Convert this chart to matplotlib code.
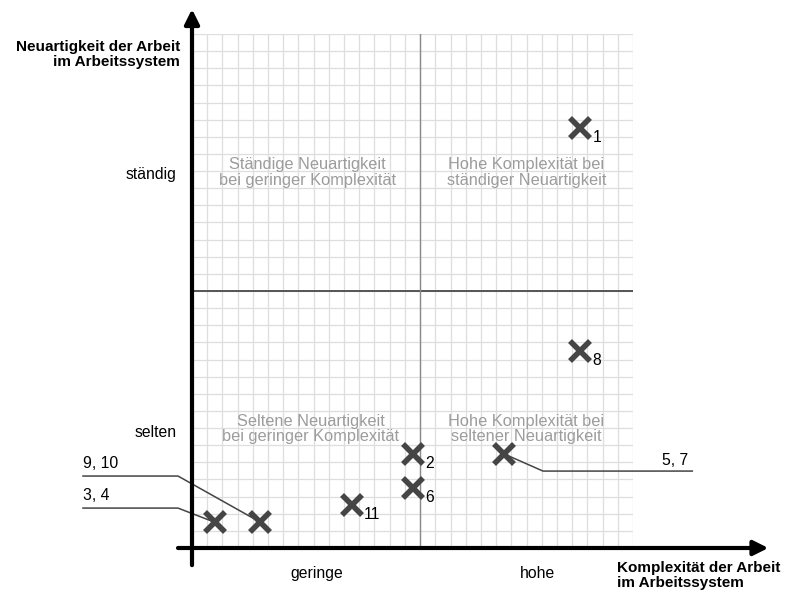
import numpy as np
import matplotlib.pyplot as plt

plt.rcParams["font.family"] = ["Liberation Sans", "DejaVu Sans"]

# Raster: 29 Spalten x 30 Zeilen, Mitte bei 15 / 15
n_cols = 29
n_rows = 30
mitte_x = 15
mitte_y = 15

# Kreuze mit Nummer daneben
komplexitaet = [25.5, 14.5, 25.5, 14.5, 10.5]
neuartigkeit = [24.5, 5.5, 11.5, 3.5, 2.5]
nummern = ["1", "2", "8", "6", "11"]

# Kreuze mit Hinweislinie
hinweis_x = [1.5, 4.5, 20.5]
hinweis_y = [1.5, 1.5, 5.5]
hinweis_text = ["3, 4", "9, 10", "5, 7"]

x_ticks = ["geringe", "hohe"]
y_ticks = ["selten", "ständig"]

quadranten = ["Ständige Neuartigkeit\nbei geringer Komplexität",
              "Hohe Komplexität bei\nständiger Neuartigkeit",
              "Seltene Neuartigkeit\nbei geringer Komplexität",
              "Hohe Komplexität bei\nseltener Neuartigkeit"]

fs = 11.3

fig = plt.figure(figsize=(7.88, 5.90), dpi=100)
ax = fig.add_axes([192 / 788, 42 / 590, 441 / 788, 514 / 590])
ax.set_xlim(0, n_cols)
ax.set_ylim(0, n_rows)
for s in ax.spines.values():
    s.set_visible(False)

# Raster
ax.set_xticks(np.arange(0, n_cols + 1), minor=True)
ax.set_yticks(np.arange(0, n_rows + 1), minor=True)
ax.grid(which="minor", color="#dedede", lw=0.9)
ax.tick_params(which="both", length=0)
ax.set_xticks([8.2, 22.7], x_ticks)
ax.set_yticks([6.8, 21.9], y_ticks)
ax.tick_params(axis="x", pad=13, labelsize=fs)
ax.tick_params(axis="y", pad=11, labelsize=fs)

# Mittellinien
ax.plot([0, n_cols], [mitte_y, mitte_y], color="#555555", lw=1.4, zorder=2)
ax.plot([mitte_x, mitte_x], [0, n_rows], color="#8a8a8a", lw=1.0, zorder=2)

# Achsen mit Pfeilen
pfeil = dict(arrowstyle="-|>", color="black", lw=3, mutation_scale=22, shrinkA=0, shrinkB=0)
ax.annotate("", xy=(0, 31.45), xytext=(0, -1.0), arrowprops=pfeil, annotation_clip=False, zorder=5)
ax.annotate("", xy=(37.9, 0), xytext=(-0.92, 0), arrowprops=pfeil, annotation_clip=False, zorder=5)

# Quadrantentexte
qx = [7.6, 22.0, 7.8, 22.0]
qy = [21.9, 21.9, 6.95, 6.95]
for x, y, t in zip(qx, qy, quadranten):
    ax.text(x, y, t, color="#9c9c9c", fontsize=11.8, ha="center", va="center",
            linespacing=1.05, zorder=3)

# Hinweislinien
ax.plot([-7.17, -0.92, hinweis_x[0]], [2.33, 2.33, hinweis_y[0]], color="#444444", lw=1.1,
        clip_on=False, zorder=4)
ax.plot([-7.17, -0.92, hinweis_x[1]], [4.2, 4.2, hinweis_y[1]], color="#444444", lw=1.1,
        clip_on=False, zorder=4)
ax.plot([hinweis_x[2], 23.08, 32.9], [hinweis_y[2], 4.49, 4.49], color="#444444", lw=1.1,
        clip_on=False, zorder=4)
ax.text(-7.17, 3.09, hinweis_text[0], fontsize=fs, ha="left", va="center")
ax.text(-7.17, 4.96, hinweis_text[1], fontsize=fs, ha="left", va="center")
ax.text(32.6, 5.08, hinweis_text[2], fontsize=fs, ha="right", va="center")

# Kreuze
ax.plot(komplexitaet + hinweis_x, neuartigkeit + hinweis_y, linestyle="none", marker="x",
        markersize=14, markeredgewidth=4, color="#454545", zorder=6, clip_on=False)
for x, y, n in zip(komplexitaet, neuartigkeit, nummern):
    ax.annotate(n, (x, y), xytext=(9, -7), textcoords="offset points",
                fontsize=fs, ha="left", va="center", zorder=6)

# Achsenbeschriftungen
ax.text(-0.79, 28.8, "Neuartigkeit der Arbeit\nim Arbeitssystem", fontweight="bold",
        fontsize=11, ha="right", va="center", multialignment="right", linespacing=1.1)
ax.text(27.95, -1.58, "Komplexität der Arbeit\nim Arbeitssystem", fontweight="bold",
        fontsize=11, ha="left", va="center", multialignment="left", linespacing=1.1)

fig.savefig("out.png", dpi=100)
